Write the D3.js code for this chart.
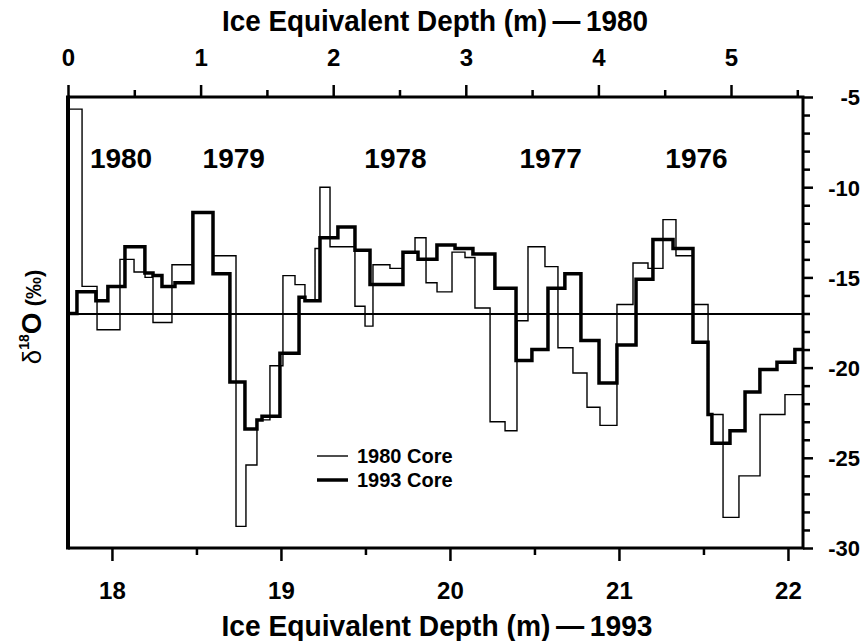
<!DOCTYPE html>
<html><head><meta charset="utf-8">
<script src="https://cdn.jsdelivr.net/npm/d3@7"></script>
<style>
body{margin:0;background:#fff}
text{font-family:"Liberation Sans",Arial,Helvetica,sans-serif;font-weight:bold;fill:#000}
</style>
</head><body>
<svg id="chart" width="865" height="641"></svg>
<script>
// ---- data ----
// 1993 core: step edges (ice-equivalent depth, m, 1993 scale) and δ18O values (‰)
const core1993Edges = [17.740,17.793,17.905,17.976,18.077,18.195,18.243,18.296,18.373,18.479,
  18.598,18.698,18.787,18.858,18.888,18.994,19.107,19.142,19.231,19.337,
  19.438,19.527,19.722,19.811,19.923,20.030,20.136,20.266,20.391,20.485,
  20.580,20.680,20.775,20.882,20.988,21.101,21.201,21.320,21.438,21.527,
  21.550,21.657,21.746,21.834,21.935,22.041,22.089];
const core1993Values = [-17.0,-15.8,-16.3,-15.5,-13.3,-14.75,-14.9,-15.5,-15.3,-11.4,
  -14.8,-20.8,-23.4,-22.9,-22.7,-19.2,-16.1,-16.3,-12.8,-12.2,
  -13.5,-15.4,-13.6,-14.0,-13.2,-13.4,-13.7,-15.6,-19.6,-19.0,
  -15.6,-14.8,-18.5,-20.85,-18.75,-15.1,-12.9,-13.4,-18.6,-22.6,
  -24.2,-23.5,-21.35,-20.1,-19.7,-19.0];
// 1980 core: step edges (ice-equivalent depth, m, 1980 scale) and δ18O values (‰)
const core1980Edges = [0,0.106,0.219,0.392,0.498,0.581,0.641,0.784,0.943,1.094,
  1.267,1.342,1.425,1.523,1.621,1.712,1.787,1.863,1.900,1.976,
  2.164,2.240,2.300,2.428,2.526,2.617,2.700,2.783,2.896,2.994,
  3.069,3.183,3.296,3.386,3.469,3.597,3.695,3.808,3.914,4.012,
  4.140,4.261,4.374,4.487,4.585,4.713,4.827,4.940,5.060,5.219,
  5.407,5.543];
const core1980Values = [-5.67,-15.5,-17.9,-14.0,-14.7,-15.0,-17.5,-14.3,-11.4,-13.8,
  -28.8,-25.4,-22.9,-19.9,-14.9,-15.4,-16.3,-13.4,-10.0,-13.3,
  -16.6,-17.7,-14.3,-14.5,-13.6,-12.8,-15.3,-15.8,-13.6,-13.9,
  -16.7,-23.0,-23.5,-17.4,-13.3,-14.4,-18.9,-20.3,-22.2,-23.2,
  -16.5,-14.2,-14.5,-11.8,-13.8,-16.5,-22.6,-28.3,-26.0,-22.6,
  -21.5];
const meanValue = -17.03;
const yearLabels = ["1980","1979","1978","1977","1976"];
const yearLabelDepth1980 = [0.40,1.25,2.47,3.64,4.74];
const yearLabelValue = -8.4;
const bottomTicks = [18,19,20,21,22];
const bottomMinorTicks = [18.5,19.5,20.5,21.5];
const topTicks = [0,1,2,3,4,5];
const topMinorTicks = [0.5,1.5,2.5,3.5,4.5,5.5];
const rightTicks = [-5,-10,-15,-20,-25,-30];
const rightMinorTicks = d3.range(-29,-5).filter(v => v % 5 !== 0);
const legendItems = [{label:"1980 Core", w:1.4},{label:"1993 Core", w:3.5}];

// ---- layout ----
const L = 68, R = 803, T = 97, B = 548;
const svg = d3.select("#chart");
const xB = d3.scaleLinear().domain([17.74, 22.089]).range([L, R]);
const xT = d3.scaleLinear().domain([0, 5.543]).range([L, R]);
const y = d3.scaleLinear().domain([-30, -5]).range([B, T]);

function stepPoints(edges, vals, xs) {
  const pts = vals.map((v, i) => [xs(edges[i]), y(v)]);
  pts.push([xs(edges[edges.length - 1]), y(vals[vals.length - 1])]);
  return pts;
}
const line = d3.line().curve(d3.curveStepAfter);

// mean line
svg.append("line").attr("x1", L).attr("x2", R)
  .attr("y1", y(meanValue)).attr("y2", y(meanValue))
  .attr("stroke", "#000").attr("stroke-width", 2);

// 1980 core (thin)
svg.append("path").attr("d", line(stepPoints(core1980Edges, core1980Values, xT)))
  .attr("fill", "none").attr("stroke", "#000").attr("stroke-width", 1.4);
// 1993 core (thick)
svg.append("path").attr("d", line(stepPoints(core1993Edges, core1993Values, xB)))
  .attr("fill", "none").attr("stroke", "#000").attr("stroke-width", 3.5)
  .attr("stroke-linejoin", "miter");

// axes
function styleAxis(g) {
  g.select(".domain").remove();
  g.selectAll("line").attr("stroke", "#000").attr("stroke-width", 2.5);
}
// bottom
const gB = svg.append("g").attr("transform", `translate(0,${B})`)
  .call(d3.axisBottom(xB).tickValues(bottomTicks).tickSize(13).tickFormat(d3.format("d")));
styleAxis(gB);
gB.selectAll("text").attr("y", 51).attr("dy", 0).attr("font-size", 24);
svg.append("g").attr("transform", `translate(0,${B})`)
  .call(d3.axisBottom(xB).tickValues(bottomMinorTicks).tickSize(7).tickFormat(""))
  .call(styleAxis);
// top
const gT = svg.append("g").attr("transform", `translate(0,${T})`)
  .call(d3.axisTop(xT).tickValues(topTicks).tickSize(12).tickFormat(d3.format("d")));
styleAxis(gT);
gT.selectAll("text").attr("y", -31).attr("dy", 0).attr("font-size", 24);
svg.append("g").attr("transform", `translate(0,${T})`)
  .call(d3.axisTop(xT).tickValues(topMinorTicks).tickSize(7).tickFormat(""))
  .call(styleAxis);
// right
const gR = svg.append("g").attr("transform", `translate(${R},0)`)
  .call(d3.axisRight(y).tickValues(rightTicks).tickSize(10).tickFormat(d => String(d)));
styleAxis(gR);
gR.selectAll("text").attr("x", 57).attr("dy", "0.36em").attr("text-anchor", "end").attr("font-size", 22);
svg.append("g").attr("transform", `translate(${R},0)`)
  .call(d3.axisRight(y).tickValues(rightMinorTicks).tickSize(7).tickFormat(""))
  .call(styleAxis);

// frame
svg.append("path").attr("d", `M${L},${T}H${R}V${B}H${L}`)
  .attr("fill", "none").attr("stroke", "#000").attr("stroke-width", 3);
svg.append("line").attr("x1", L).attr("x2", L).attr("y1", T - 1.5).attr("y2", B + 1.5)
  .attr("stroke", "#000").attr("stroke-width", 4);

// titles
svg.append("text").attr("x", 435).attr("y", 31).attr("text-anchor", "middle")
  .attr("font-size", 30).attr("textLength", 426).attr("lengthAdjust", "spacingAndGlyphs")
  .text("Ice Equivalent Depth (m)\u2009\u2014\u20091980");
svg.append("text").attr("x", 437).attr("y", 636).attr("text-anchor", "middle")
  .attr("font-size", 30).attr("textLength", 431).attr("lengthAdjust", "spacingAndGlyphs")
  .text("Ice Equivalent Depth (m)\u2009\u2014\u20091993");

// y title
const yt = svg.append("text").attr("transform", "translate(41,317) rotate(-90)")
  .attr("text-anchor", "middle");
yt.append("tspan").attr("font-size", 26).attr("font-weight", "normal").text("δ");
yt.append("tspan").attr("font-size", 14).attr("dy", -12).text("18");
yt.append("tspan").attr("font-size", 28).attr("dy", 12).text("O");
yt.append("tspan").attr("font-size", 22).text(" (‰)");

// year labels
svg.selectAll(".yr").data(yearLabels).join("text").attr("class", "yr")
  .attr("x", (d, i) => xT(yearLabelDepth1980[i])).attr("y", y(yearLabelValue) + 10)
  .attr("text-anchor", "middle").attr("font-size", 28).text(d => d);

// legend
const lg = svg.append("g").attr("transform", "translate(317,456)");
legendItems.forEach((it, i) => {
  lg.append("line").attr("x1", 0).attr("x2", 31).attr("y1", i * 24).attr("y2", i * 24)
    .attr("stroke", "#000").attr("stroke-width", it.w);
  lg.append("text").attr("x", 40).attr("y", i * 24 + 7).attr("font-size", 20).text(it.label);
});
</script>
</body></html>
